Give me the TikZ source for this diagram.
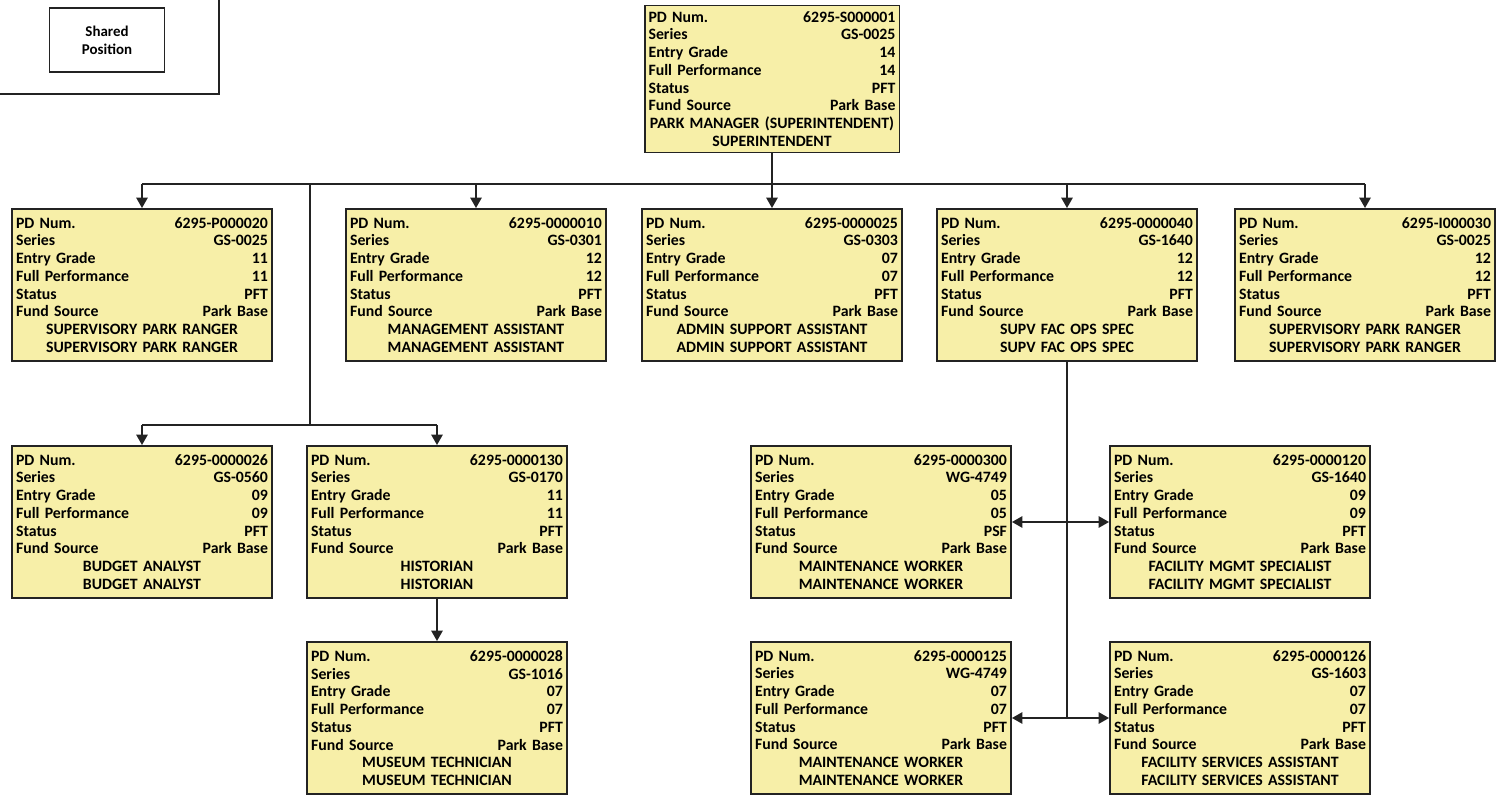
\documentclass[tikz,border=0pt]{standalone}
\usepackage{fontspec}
\setmainfont{Carlito}
\usepackage{tikz}
\usetikzlibrary{positioning, arrows.meta}
\definecolor{PosFill}{RGB}{247,239,168}
\definecolor{PosLine}{RGB}{35,35,35}

\newcommand{\pdinfo}[7]{%
  PD Num.\hfill #1\\
  Series\hfill #2\\
  Entry Grade\hfill #3\\
  Full Performance\hfill #4\\
  Status\hfill #5\\
  Fund Source\hfill Park Base\\
  \makebox[\linewidth]{#6}\\
  \makebox[\linewidth]{#7}}

\begin{document}
\begin{tikzpicture}[x=0.02cm, y=-0.02cm,
      box/.style={rectangle, draw=PosLine, line width=1.1pt, fill=PosFill,
                  minimum width=5.2cm, text width=5.04cm, minimum height=3.04cm,
                  inner xsep=0.08cm, inner ysep=2pt, align=left,
                  font=\fontsize{9}{10.1}\selectfont\bfseries},
      link/.style={draw=PosLine, line width=1.1pt},
      arr/.style={link, -{Triangle[length=6pt, width=6.5pt]}},
      both/.style={link, {Triangle[length=6pt, width=6.5pt]}-{Triangle[length=6pt, width=6.5pt]}}
    ]
    \useasboundingbox (0,0) rectangle (1500,794);

    % Legend
    \draw[link] (0,94) -| (219,0);
    \node[draw=PosLine, line width=1.1pt, minimum width=2.3cm, minimum height=1.28cm,
          align=center, font=\fontsize{8.5}{10.1}\selectfont\bfseries] (LEG) at (107,40)
        {Shared\\Position};

    % Boxes
    \node[box, minimum width=5.1cm, text width=4.94cm, minimum height=2.94cm] (SUP) at (772,79)
        {\pdinfo{6295-S000001}{GS-0025}{14}{14}{PFT}{PARK MANAGER (SUPERINTENDENT)}{SUPERINTENDENT}};

    \node[box] (SPR1) at (142,285)
        {\pdinfo{6295-P000020}{GS-0025}{11}{11}{PFT}{SUPERVISORY PARK RANGER}{SUPERVISORY PARK RANGER}};
    \node[box] (MA) at (476,285)
        {\pdinfo{6295-0000010}{GS-0301}{12}{12}{PFT}{MANAGEMENT ASSISTANT}{MANAGEMENT ASSISTANT}};
    \node[box] (ASA) at (772,285)
        {\pdinfo{6295-0000025}{GS-0303}{07}{07}{PFT}{ADMIN SUPPORT ASSISTANT}{ADMIN SUPPORT ASSISTANT}};
    \node[box] (FOS) at (1067,285)
        {\pdinfo{6295-0000040}{GS-1640}{12}{12}{PFT}{SUPV FAC OPS SPEC}{SUPV FAC OPS SPEC}};
    \node[box] (SPR2) at (1365,285)
        {\pdinfo{6295-I000030}{GS-0025}{12}{12}{PFT}{SUPERVISORY PARK RANGER}{SUPERVISORY PARK RANGER}};

    \node[box] (BA) at (142,522)
        {\pdinfo{6295-0000026}{GS-0560}{09}{09}{PFT}{BUDGET ANALYST}{BUDGET ANALYST}};
    \node[box] (HIS) at (437,522)
        {\pdinfo{6295-0000130}{GS-0170}{11}{11}{PFT}{HISTORIAN}{HISTORIAN}};
    \node[box] (MT) at (437,718)
        {\pdinfo{6295-0000028}{GS-1016}{07}{07}{PFT}{MUSEUM TECHNICIAN}{MUSEUM TECHNICIAN}};

    \node[box] (MW1) at (881,522)
        {\pdinfo{6295-0000300}{WG-4749}{05}{05}{PSF}{MAINTENANCE WORKER}{MAINTENANCE WORKER}};
    \node[box] (FMS) at (1240,522)
        {\pdinfo{6295-0000120}{GS-1640}{09}{09}{PFT}{FACILITY MGMT SPECIALIST}{FACILITY MGMT SPECIALIST}};
    \node[box] (MW2) at (881,718)
        {\pdinfo{6295-0000125}{WG-4749}{07}{07}{PFT}{MAINTENANCE WORKER}{MAINTENANCE WORKER}};
    \node[box] (FSA) at (1240,718)
        {\pdinfo{6295-0000126}{GS-1603}{07}{07}{PFT}{FACILITY SERVICES ASSISTANT}{FACILITY SERVICES ASSISTANT}};

    % Connectors
    \coordinate (bus) at (772,184);
    \coordinate (split) at (310,184);
    \coordinate (lbus) at (310,425);
    \draw[arr] (SUP) -- (ASA);
    \draw[link] (SPR1.north |- bus) -- (SPR2.north |- bus);
    \foreach \n in {SPR1,MA,FOS,SPR2}
      \draw[arr] (\n.north |- bus) -- (\n.north);

    \draw[link] (split) -- (lbus);
    \draw[link] (BA.north |- lbus) -- (HIS.north |- lbus);
    \draw[arr] (BA.north |- lbus) -- (BA.north);
    \draw[arr] (HIS.north |- lbus) -- (HIS.north);
    \draw[arr] (HIS) -- (MT);

    \coordinate (drop) at (FOS.south |- MW2.east);
    \draw[link] (FOS.south) -- (drop);
    \draw[both] (MW1) -- (FMS);
    \draw[both] (MW2) -- (FSA);
  \end{tikzpicture}
\end{document}
